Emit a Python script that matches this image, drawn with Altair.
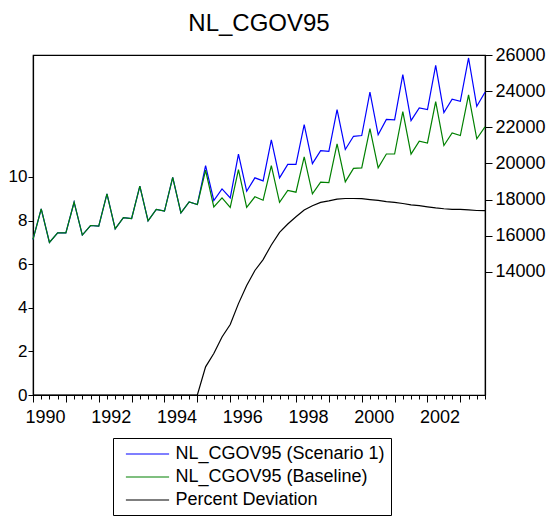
import altair as alt
import pandas as pd

# quarterly index 1990Q1 .. 2003Q4
years = list(range(1990, 2004))
quarters = [1, 2, 3, 4]

baseline = [
    15790, 17480, 15620, 16155,
    16155, 17850, 16030, 16560,
    16525, 18310, 16380, 17000,
    16950, 18740, 16820, 17450,
    17355, 19220, 17260, 17870,
    17725, 19620, 17590, 18090,
    17560, 19660, 17560, 18150,
    17960, 19880, 17840, 18500,
    18405, 20360, 18310, 18960,
    18940, 21080, 18980, 19720,
    19750, 21930, 19750, 20520,
    20520, 22870, 20510, 21230,
    21130, 23420, 20990, 21690,
    21540, 23790, 21360, 22020,
]

scenario1 = [
    15790, 17480, 15620, 16155,
    16155, 17850, 16030, 16560,
    16525, 18310, 16380, 17000,
    16950, 18740, 16820, 17450,
    17355, 19220, 17260, 17870,
    17725, 19880, 17945, 18590,
    18090, 20510, 18460, 19200,
    19030, 21300, 19200, 19940,
    19940, 22150, 19990, 20710,
    20670, 22980, 20770, 21500,
    21540, 23940, 21580, 22430,
    22410, 24915, 22370, 23070,
    22980, 25430, 22810, 23550,
    23440, 25835, 23160, 23940,
]

pct_dev = [
    0, 0, 0, 0,
    0, 0, 0, 0,
    0, 0, 0, 0,
    0, 0, 0, 0,
    0, 0, 0, 0,
    0, 1.29, 1.90, 2.66,
    3.23, 4.19, 5.02, 5.71,
    6.21, 6.88, 7.46, 7.84,
    8.17, 8.48, 8.68, 8.83,
    8.90, 8.98, 9.01, 9.01,
    9.00, 8.96, 8.92, 8.87,
    8.83, 8.78, 8.72, 8.68,
    8.63, 8.58, 8.54, 8.51,
    8.51, 8.49, 8.46, 8.45,
]

names = ["NL_CGOV95 (Scenario 1)", "NL_CGOV95 (Baseline)", "Percent Deviation"]
colors = ["#0000ff", "#008000", "#000000"]

t = [y + (q - 1) / 4 for y in years for q in quarters]
n = len(t)

df = pd.DataFrame({
    "t": t * 3,
    "value": scenario1 + baseline + pct_dev,
    "series": [names[0]] * n + [names[1]] * n + [names[2]] * n,
})

FONT = "Liberation Sans"

x = alt.X("t:Q", title=None,
          scale=alt.Scale(domain=[1990, 2003.75], nice=False, zero=False),
          axis=alt.Axis(values=t, labelOverlap=False, labelFlush=False, labelOffset=12,
                        labelExpr="datum.value % 2 === 0 ? format(datum.value, 'd') : ''",
                        tickSize={"condition": {"test": "datum.value % 1 === 0", "value": 7}, "value": 4},
                        labelPadding=6))

legend = alt.Legend(orient="none", legendX=80, legendY=383, title=None)
color = alt.Color("series:N", scale=alt.Scale(domain=names, range=colors), legend=legend)

y_right = alt.Y("value:Q", title=None,
                scale=alt.Scale(domain=[7178, 26000], nice=False, zero=False),
                axis=alt.Axis(orient="right", values=list(range(14000, 26001, 2000)),
                              format="d", tickSize=7, labelPadding=3))
y_left = alt.Y("value:Q", title=None,
               scale=alt.Scale(domain=[0, 15.59], nice=False, zero=False),
               axis=alt.Axis(orient="left", values=[0, 2, 4, 6, 8, 10],
                             format="d", tickSize=5, labelPadding=1, labelFontSize=17))

base = alt.Chart(df).mark_line(strokeWidth=1.2)

blue = base.transform_filter(alt.datum.series == names[0]).encode(x=x, y=y_right, color=color)
green = base.transform_filter(alt.datum.series == names[1]).encode(x=x, y=y_right, color=color)
black = base.transform_filter(alt.datum.series == names[2]).encode(x=x, y=y_left, color=color)

chart = alt.layer(alt.layer(blue, green), black).resolve_scale(
    y="independent"
).properties(
    width=452, height=340,
    autosize=alt.AutoSizeParams(type="none"),
    padding={"left": 25, "top": 47, "right": 64, "bottom": 122},
    title=alt.TitleParams("NL_CGOV95", font=FONT, fontSize=24, fontWeight="normal",
                          anchor="middle", offset=10, color="black"),
).configure_view(
    stroke="black", strokeWidth=1.2
).configure_axis(
    labelFont=FONT, labelFontSize=18, labelColor="black",
    domainColor="black", tickColor="black", grid=False, domainWidth=1.2
).configure_legend(
    labelFont=FONT, labelFontSize=18, labelColor="black", labelLimit=400,
    strokeColor="black", strokeWidth=1, padding=6, rowPadding=4,
    symbolType="M-2.4,0H2.4", symbolSize=324, symbolOffset=18.5,
    labelOffset=18, symbolStrokeWidth=1.2, fillColor="white"
)

chart.save("out.html", embed_options={"renderer": "svg", "actions": False})
